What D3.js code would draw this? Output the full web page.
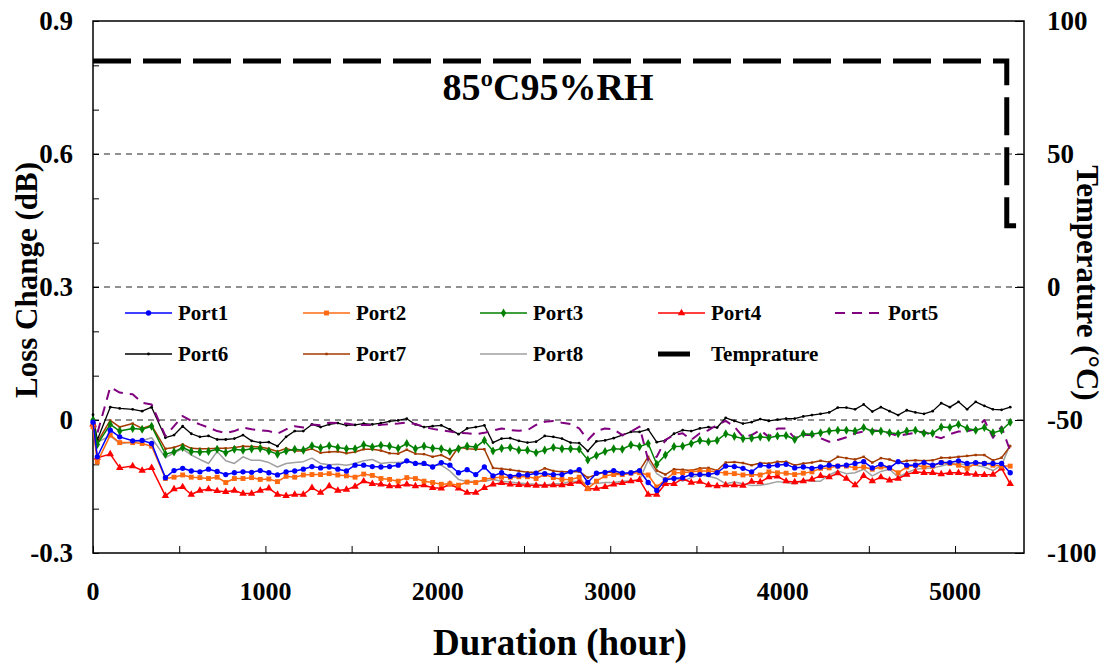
<!DOCTYPE html>
<html><head><meta charset="utf-8">
<script src="https://cdn.jsdelivr.net/npm/d3@7"></script>
<style>body{margin:0;background:#fff;} text{font-family:"Liberation Serif","Times New Roman",serif;font-weight:bold;}</style>
</head><body>
<svg id="c" width="1107" height="665"></svg>
<script>
const hours = [0,25,100,155,230,285,340,
420,470,520,570,620,670,720,770,820,870,920,970,1020,1070,1120,1170,1220,1270,1320,
1370,1420,1470,1520,1570,1620,1670,1720,1770,1820,1870,1920,1970,2020,2070,2120,2170,2220,2270,2320,2370,2420,2470,2520,2570,2620,2670,
2720,2770,2820,2870,2920,2970,3020,3070,3120,3170,3220,3270,3320,3370,3420,3470,3520,3570,3620,3670,3720,3770,3820,3870,3920,3970,4020,4070,
4120,4170,4220,4270,4320,4370,4420,4470,4520,4570,4620,4670,4720,4770,4820,4870,4920,4970,5020,5070,5120,5170,5220,5270,5320];

const port1 = [-0.005,-0.083,-0.023,-0.038,-0.047,-0.046,-0.053,
-0.13,-0.114,-0.109,-0.115,-0.117,-0.111,-0.116,-0.123,-0.119,-0.117,-0.118,-0.114,-0.119,-0.124,-0.117,-0.115,-0.111,-0.105,-0.108,
-0.106,-0.111,-0.115,-0.102,-0.102,-0.105,-0.106,-0.105,-0.102,-0.092,-0.098,-0.098,-0.106,-0.096,-0.102,-0.119,-0.112,-0.123,-0.106,-0.126,-0.119,-0.127,-0.124,-0.124,-0.12,-0.121,-0.123,
-0.123,-0.117,-0.112,-0.141,-0.12,-0.118,-0.114,-0.12,-0.119,-0.114,-0.141,-0.159,-0.135,-0.132,-0.13,-0.123,-0.123,-0.123,-0.119,-0.104,-0.105,-0.109,-0.117,-0.102,-0.104,-0.102,-0.1,-0.108,
-0.106,-0.109,-0.106,-0.102,-0.104,-0.102,-0.098,-0.094,-0.108,-0.1,-0.108,-0.094,-0.102,-0.102,-0.096,-0.102,-0.096,-0.096,-0.092,-0.098,-0.096,-0.098,-0.098,-0.098,-0.119];

const port2 = [-0.015,-0.095,-0.034,-0.051,-0.051,-0.053,-0.059,
-0.132,-0.129,-0.124,-0.129,-0.13,-0.132,-0.129,-0.141,-0.132,-0.132,-0.13,-0.134,-0.133,-0.139,-0.127,-0.129,-0.124,-0.123,-0.123,
-0.121,-0.124,-0.126,-0.129,-0.122,-0.125,-0.132,-0.134,-0.138,-0.13,-0.132,-0.138,-0.141,-0.145,-0.144,-0.147,-0.14,-0.141,-0.134,-0.13,-0.129,-0.129,-0.128,-0.128,-0.132,-0.123,-0.13,
-0.134,-0.134,-0.129,-0.155,-0.138,-0.126,-0.123,-0.123,-0.12,-0.119,-0.124,-0.151,-0.135,-0.119,-0.119,-0.117,-0.115,-0.115,-0.117,-0.12,-0.121,-0.124,-0.123,-0.124,-0.117,-0.119,-0.12,-0.123,
-0.12,-0.117,-0.109,-0.108,-0.104,-0.104,-0.108,-0.106,-0.111,-0.106,-0.108,-0.119,-0.106,-0.102,-0.106,-0.104,-0.096,-0.098,-0.102,-0.109,-0.098,-0.098,-0.102,-0.104,-0.104];

const port3 = [0.0,-0.055,-0.01,-0.025,-0.019,-0.021,-0.014,
-0.077,-0.072,-0.062,-0.071,-0.072,-0.071,-0.066,-0.074,-0.066,-0.068,-0.065,-0.064,-0.07,-0.077,-0.07,-0.066,-0.068,-0.058,-0.063,
-0.058,-0.062,-0.065,-0.065,-0.056,-0.061,-0.057,-0.059,-0.064,-0.053,-0.065,-0.059,-0.064,-0.065,-0.071,-0.065,-0.059,-0.061,-0.046,-0.07,-0.064,-0.062,-0.068,-0.068,-0.074,-0.068,-0.062,
-0.065,-0.065,-0.066,-0.09,-0.08,-0.071,-0.065,-0.066,-0.056,-0.06,-0.053,-0.1,-0.079,-0.06,-0.059,-0.053,-0.046,-0.049,-0.046,-0.031,-0.037,-0.042,-0.041,-0.038,-0.04,-0.036,-0.035,-0.044,
-0.031,-0.032,-0.029,-0.025,-0.023,-0.023,-0.025,-0.017,-0.026,-0.025,-0.029,-0.031,-0.025,-0.023,-0.03,-0.03,-0.016,-0.017,-0.01,-0.019,-0.023,-0.017,-0.029,-0.023,-0.005];

const port4 = [-0.01,-0.085,-0.077,-0.108,-0.104,-0.114,-0.108,
-0.171,-0.156,-0.151,-0.168,-0.159,-0.156,-0.16,-0.162,-0.159,-0.166,-0.166,-0.159,-0.154,-0.168,-0.171,-0.168,-0.168,-0.153,-0.164,
-0.149,-0.159,-0.157,-0.15,-0.138,-0.144,-0.145,-0.149,-0.149,-0.145,-0.149,-0.147,-0.153,-0.154,-0.145,-0.154,-0.164,-0.164,-0.153,-0.145,-0.142,-0.145,-0.146,-0.147,-0.148,-0.148,-0.147,
-0.147,-0.144,-0.139,-0.155,-0.155,-0.151,-0.145,-0.142,-0.138,-0.135,-0.168,-0.168,-0.144,-0.144,-0.132,-0.141,-0.139,-0.147,-0.149,-0.147,-0.147,-0.148,-0.139,-0.14,-0.129,-0.127,-0.138,-0.14,
-0.138,-0.134,-0.126,-0.129,-0.12,-0.132,-0.147,-0.126,-0.138,-0.129,-0.136,-0.132,-0.123,-0.117,-0.119,-0.119,-0.122,-0.119,-0.119,-0.121,-0.123,-0.124,-0.123,-0.109,-0.144];

const port5 = [0.005,-0.03,0.074,0.062,0.058,0.039,0.035,
-0.036,-0.014,0.009,-0.002,-0.01,-0.017,-0.025,-0.029,-0.025,-0.017,-0.021,-0.023,-0.025,-0.031,-0.021,-0.014,-0.017,-0.01,-0.012,
-0.006,-0.007,-0.008,-0.011,-0.011,-0.011,-0.011,-0.009,-0.008,-0.006,-0.009,-0.015,-0.02,-0.023,-0.026,-0.029,-0.03,-0.032,-0.029,-0.024,-0.019,-0.023,-0.024,-0.023,-0.011,-0.004,-0.002,
-0.006,-0.009,-0.019,-0.045,-0.025,-0.019,-0.021,-0.034,-0.026,-0.015,-0.09,-0.083,-0.045,-0.034,-0.03,-0.045,-0.03,-0.023,-0.011,-0.002,-0.015,-0.038,-0.034,-0.023,-0.038,-0.019,-0.019,-0.041,
-0.034,-0.034,-0.041,-0.049,-0.045,-0.039,-0.03,-0.026,-0.023,-0.025,-0.03,-0.036,-0.032,-0.029,-0.026,-0.036,-0.041,-0.032,-0.026,-0.025,-0.021,0.0,-0.04,-0.015,-0.07];

const port6 = [0.012,-0.045,0.029,0.026,0.024,0.02,0.029,
-0.04,-0.034,-0.014,-0.031,-0.038,-0.036,-0.044,-0.044,-0.042,-0.034,-0.047,-0.051,-0.05,-0.059,-0.038,-0.025,-0.025,-0.01,-0.016,
-0.01,-0.007,-0.012,-0.011,-0.008,-0.01,-0.007,-0.003,-0.001,0.003,-0.01,-0.016,-0.014,-0.012,-0.021,-0.032,-0.019,-0.016,-0.012,-0.051,-0.042,-0.041,-0.047,-0.051,-0.049,-0.036,-0.038,
-0.042,-0.051,-0.052,-0.07,-0.048,-0.046,-0.041,-0.034,-0.027,-0.027,-0.021,-0.05,-0.046,-0.031,-0.023,-0.025,-0.019,-0.016,-0.017,0.005,-0.002,-0.008,-0.005,0.002,-0.002,0.001,0.003,0.003,
0.008,0.011,0.014,0.017,0.028,0.028,0.024,0.035,0.019,0.029,0.02,0.011,0.022,0.017,0.014,0.02,0.038,0.029,0.041,0.024,0.041,0.032,0.024,0.023,0.029];

const port7 = [-0.02,-0.05,-0.001,-0.016,-0.008,-0.019,-0.012,
-0.065,-0.062,-0.055,-0.064,-0.065,-0.065,-0.064,-0.064,-0.062,-0.059,-0.06,-0.061,-0.065,-0.071,-0.064,-0.07,-0.07,-0.065,-0.074,
-0.072,-0.071,-0.075,-0.072,-0.066,-0.066,-0.069,-0.075,-0.076,-0.067,-0.076,-0.077,-0.083,-0.079,-0.089,-0.061,-0.065,-0.066,-0.066,-0.108,-0.11,-0.112,-0.115,-0.118,-0.118,-0.109,-0.115,
-0.117,-0.117,-0.116,-0.13,-0.123,-0.117,-0.119,-0.123,-0.119,-0.114,-0.083,-0.114,-0.123,-0.111,-0.112,-0.114,-0.109,-0.108,-0.114,-0.096,-0.095,-0.097,-0.102,-0.097,-0.098,-0.094,-0.094,-0.102,
-0.098,-0.096,-0.092,-0.095,-0.083,-0.086,-0.089,-0.083,-0.096,-0.086,-0.089,-0.096,-0.092,-0.091,-0.092,-0.091,-0.085,-0.085,-0.083,-0.081,-0.079,-0.079,-0.091,-0.085,-0.059];

const port8 = [-0.01,-0.05,-0.036,-0.053,-0.05,-0.047,-0.04,
-0.085,-0.074,-0.065,-0.079,-0.089,-0.098,-0.071,-0.092,-0.098,-0.083,-0.091,-0.091,-0.096,-0.106,-0.098,-0.096,-0.094,-0.086,-0.098,
-0.101,-0.1,-0.102,-0.098,-0.092,-0.089,-0.098,-0.096,-0.096,-0.094,-0.098,-0.102,-0.102,-0.102,-0.115,-0.134,-0.139,-0.139,-0.138,-0.134,-0.138,-0.14,-0.142,-0.144,-0.145,-0.147,-0.144,
-0.144,-0.138,-0.139,-0.144,-0.143,-0.141,-0.141,-0.138,-0.137,-0.135,-0.091,-0.121,-0.134,-0.13,-0.138,-0.13,-0.124,-0.127,-0.132,-0.144,-0.14,-0.144,-0.148,-0.147,-0.144,-0.139,-0.141,-0.144,
-0.135,-0.138,-0.138,-0.124,-0.115,-0.121,-0.119,-0.111,-0.126,-0.116,-0.111,-0.129,-0.119,-0.111,-0.109,-0.108,-0.104,-0.098,-0.098,-0.102,-0.102,-0.106,-0.114,-0.102,-0.055];

const tempHours = [0, 5300, 5300, 5400];
const tempValues = [85, 85, 23, 23];

const xTicks = [0,1000,2000,3000,4000,5000];
const yTicks = [-0.3,0,0.3,0.6,0.9];
const y2Ticks = [-100,-50,0,50,100];
const seriesNames = ["Port1","Port2","Port3","Port4","Port5","Port6","Port7","Port8"];

const svg = d3.select("#c");
const L=93, R=1024, T=21, B=553;
const x = d3.scaleLinear().domain([0,5400]).range([L,R]);
const y = d3.scaleLinear().domain([-0.3,0.9]).range([B,T]);
const y2 = d3.scaleLinear().domain([-100,100]).range([B,T]);

// gridlines
svg.append("g").selectAll("line").data([0,0.3,0.6]).join("line")
  .attr("x1",L).attr("x2",R).attr("y1",d=>y(d)).attr("y2",d=>y(d))
  .attr("stroke","#222").attr("stroke-width",1).attr("stroke-dasharray","6,5");

// axes (inward ticks)
const fmtY = d=> d===0?"0":d.toFixed(1);
const axL = svg.append("g").attr("transform",`translate(${L},0)`)
  .call(d3.axisRight(y).tickValues(d3.range(-0.3,0.91,0.1).map(v=>+v.toFixed(2))).tickSize(6).tickFormat(""));
const axR = svg.append("g").attr("transform",`translate(${R},0)`)
  .call(d3.axisLeft(y2).tickValues(y2Ticks).tickSize(9).tickFormat(""));
const axB = svg.append("g").attr("transform",`translate(0,${B})`)
  .call(d3.axisTop(x).tickValues(d3.range(0,5401,500)).tickSize(7).tickFormat(""));
[axL,axR,axB].forEach(a=>{a.select(".domain").remove(); a.selectAll("line").attr("stroke","#000").attr("stroke-width",1);});

svg.append("rect").attr("x",L).attr("y",T).attr("width",R-L).attr("height",B-T)
  .attr("fill","none").attr("stroke","#000").attr("stroke-width",1.5);

// tick labels
svg.append("g").selectAll("text").data(yTicks).join("text")
  .attr("x",73).attr("y",d=>y(d)).attr("dy","0.35em").attr("text-anchor","end")
  .attr("font-size",27).text(fmtY);
svg.append("g").selectAll("text").data(y2Ticks).join("text")
  .attr("x",1047).attr("y",d=>y2(d)).attr("dy","0.35em").attr("text-anchor","start")
  .attr("font-size",27).text(d=>String(d));
svg.append("g").selectAll("text").data(xTicks).join("text")
  .attr("x",d=>x(d)).attr("y",600).attr("text-anchor","middle")
  .attr("font-size",26).text(d=>String(d));

// axis titles
svg.append("text").attr("transform","translate(37,280) rotate(-90)").attr("text-anchor","middle")
  .attr("font-size",31).text("Loss Change (dB)");
svg.append("text").attr("transform","translate(1077,283) rotate(90)").attr("text-anchor","middle")
  .attr("font-size",31).text("Temperature (°C)");
svg.append("text").attr("x",560).attr("y",655).attr("text-anchor","middle")
  .attr("font-size",37).text("Duration (hour)");
svg.append("text").attr("x",548).attr("y",100).attr("text-anchor","middle")
  .attr("font-size",38).text("85ºC95%RH");

// series
const styles = [
  {c:"#0000FF", w:1.5, m:"circle", s:22},
  {c:"#FF6A10", w:1.5, m:"square", s:24},
  {c:"#008000", w:1.5, m:"diamond", s:24},
  {c:"#FF0000", w:1.5, m:"triangle", s:24},
  {c:"#800080", w:2, dash:"10,7", m:null},
  {c:"#000000", w:1.3, m:"circle", s:6},
  {c:"#A33A00", w:1.5, m:"square", s:6},
  {c:"#A0A0A0", w:1.5, m:null}
];
const symMap = {circle:d3.symbolCircle, square:d3.symbolSquare, diamond:d3.symbolDiamond, triangle:d3.symbolTriangle};
const allSeries = [port1,port2,port3,port4,port5,port6,port7,port8];
const line = d3.line().x(d=>x(d[0])).y(d=>y(d[1]));
const plot = svg.append("g");
[7,6,5,4,3,2,1,0].forEach(i=>{
  const st = styles[i];
  const pts = hours.map((h,j)=>[h, allSeries[i][j]]);
  const g = plot.append("g");
  g.append("path").datum(pts).attr("d",line).attr("fill","none")
    .attr("stroke",st.c).attr("stroke-width",st.w).attr("stroke-dasharray",st.dash||null)
    .attr("stroke-linejoin","round");
  if(st.m){
    g.selectAll("path.m").data(pts).join("path").attr("class","m")
      .attr("transform",d=>`translate(${x(d[0])},${y(d[1])})`)
      .attr("d",d3.symbol().type(symMap[st.m]).size(st.s)).attr("fill",st.c);
  }
});

// temperature
svg.append("path").datum(tempHours.map((h,j)=>[h,tempValues[j]]))
  .attr("d",d3.line().x(d=>x(d[0])).y(d=>y2(d[1])))
  .attr("fill","none").attr("stroke","#000").attr("stroke-width",5).attr("stroke-dasharray","38,12");

// legend
const legX = [125,303,480,658,835], legY=[313,354];
const legItems = seriesNames.map((n,i)=>({name:n, st:styles[i], col:i%5, row:Math.floor(i/5)}));
legItems.push({name:"Temprature", st:{c:"#000",w:5,temp:true}, col:3, row:1});
const lg = svg.append("g");
legItems.forEach(it=>{
  const lx = legX[it.col], ly = legY[it.row];
  if(it.st.temp){
    lg.append("line").attr("x1",lx).attr("x2",lx+32).attr("y1",ly).attr("y2",ly).attr("stroke","#000").attr("stroke-width",5);
  } else {
    lg.append("line").attr("x1",lx).attr("x2",lx+47).attr("y1",ly).attr("y2",ly)
      .attr("stroke",it.st.c).attr("stroke-width",it.st.w).attr("stroke-dasharray",it.st.dash||null);
    if(it.st.m){
      lg.append("path").attr("transform",`translate(${lx+23.5},${ly})`)
        .attr("d",d3.symbol().type(symMap[it.st.m]).size(it.st.s)).attr("fill",it.st.c);
    }
  }
  lg.append("text").attr("x",lx+53).attr("y",ly).attr("dy","0.35em").attr("font-size",21).text(it.name);
});
</script>
</body></html>
